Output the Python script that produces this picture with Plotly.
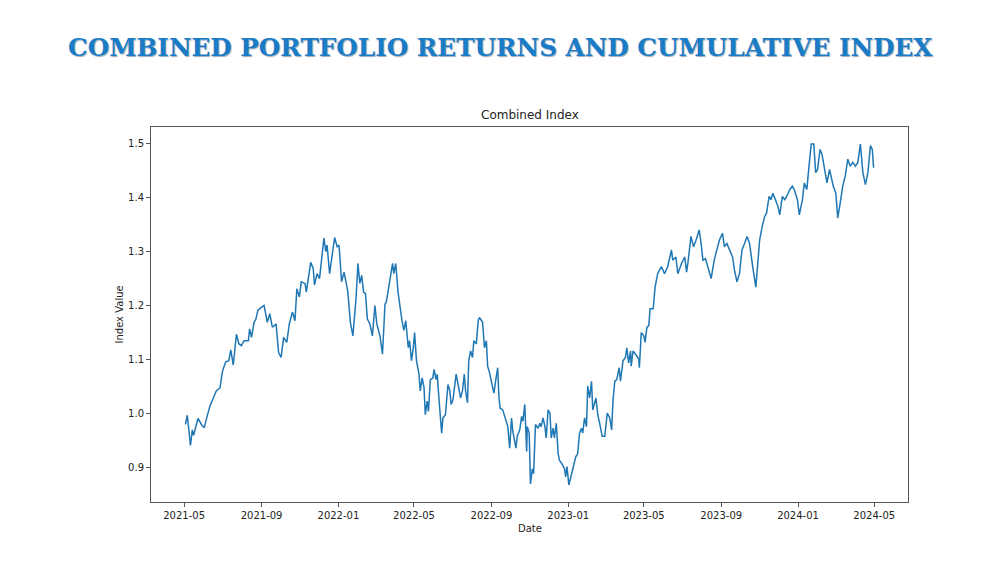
import pandas as pd
import plotly.graph_objects as go

# ---------------- data ----------------
start_date = "2021-05-01"
day_offsets = [
    2, 5, 10, 13, 15, 22, 28, 32, 36, 41, 46, 51, 57, 61, 66, 71, 74, 78, 83, 87,
    91, 95, 102, 104, 107, 111, 114, 117, 123, 127, 132, 136, 140, 146, 150, 154, 158,
    163, 167, 172, 176, 179, 183, 186, 192, 194, 201, 205, 207, 211, 215, 220, 222, 225,
    227, 231, 236, 239, 243, 246, 250, 254, 258, 260, 264, 268, 273, 276, 279, 282, 285,
    288, 291, 295, 299, 303, 306, 311, 315,
    319, 321, 324, 327, 331, 333, 336, 340, 344, 346, 349, 352, 356, 358, 361, 364, 366,
    369, 373, 375, 378, 381, 383, 386, 388, 391, 395, 397, 400, 402, 405, 409, 411, 415,
    419, 422, 424, 427, 432, 437, 439, 442, 445, 447, 450, 452, 455, 458, 460, 464, 467,
    469, 474,
    477, 480, 482, 485, 490, 492, 495, 498, 500, 502, 506, 511, 514, 517, 520, 522, 527,
    529, 533, 536, 538, 541, 544, 545, 548, 550, 553, 555, 558, 562, 565, 567, 570, 573,
    575, 578, 581, 583, 586, 588, 591, 594, 596, 601, 604, 606, 608, 611, 615, 619, 622,
    625, 628,
    631, 633, 636, 639, 641, 644, 647, 649, 654, 657, 661, 664, 668, 672, 676, 679, 681,
    684, 687, 691, 693, 697, 701, 703, 706, 709, 710, 713, 717, 722, 723, 726, 730, 732,
    735, 738, 740, 745, 746,
    748, 752, 758, 763, 768, 774, 776, 781, 784, 790, 795, 798, 800, 805, 809, 813, 818,
    821, 824, 828, 832, 837, 842, 850, 855, 858, 862, 866, 871, 874, 878, 882, 886, 890,
    894, 898, 901, 903, 908, 911, 914, 918, 922, 925, 929, 932, 935, 939, 943, 946, 950,
    954, 957, 962, 966, 969, 974, 977, 982, 985, 989, 993, 996, 1000, 1003, 1006, 1010,
    1013, 1017, 1021, 1025, 1028, 1031, 1035, 1038, 1042, 1046, 1050, 1054, 1058, 1062,
    1066, 1070, 1074, 1078, 1082, 1086, 1090, 1093, 1095,
]
index_values = [
    0.980, 0.997, 0.941, 0.970, 0.960, 0.991, 0.979, 0.974, 0.993, 1.014, 1.028, 1.042,
    1.048, 1.079, 1.096, 1.098, 1.118, 1.090, 1.147, 1.129, 1.126, 1.135, 1.135, 1.157,
    1.141, 1.169, 1.175, 1.191, 1.197, 1.200, 1.169, 1.185, 1.160, 1.166, 1.113, 1.104,
    1.141,
    1.132, 1.166, 1.188, 1.172, 1.231, 1.216, 1.244, 1.241, 1.225, 1.280, 1.269, 1.238,
    1.259, 1.250, 1.303, 1.325, 1.300, 1.312, 1.259, 1.297, 1.326, 1.309, 1.312, 1.244,
    1.262, 1.238, 1.225, 1.169, 1.144, 1.213, 1.278, 1.241, 1.256, 1.225, 1.222, 1.175,
    1.166, 1.144, 1.200, 1.166, 1.144, 1.110,
    1.203, 1.206, 1.228, 1.247, 1.278, 1.259, 1.278, 1.222, 1.185, 1.172, 1.154, 1.172,
    1.122, 1.135, 1.098, 1.122, 1.150, 1.098, 1.073, 1.042, 1.066, 1.048, 0.998, 1.023,
    1.004, 1.063, 1.066, 1.082, 1.063, 1.073, 1.023, 0.964, 0.992, 0.998, 1.054, 1.042,
    1.017, 1.026, 1.073, 1.042, 1.029, 1.042, 1.073, 1.042, 1.020, 1.098, 1.116, 1.104,
    1.135, 1.129, 1.172, 1.178, 1.169,
    1.122, 1.135, 1.088, 1.076, 1.048, 1.038, 1.063, 1.085, 1.029, 1.010, 1.007, 0.986,
    0.976, 0.936, 0.992, 0.967, 0.936, 0.958, 0.970, 0.995, 0.986, 1.017, 0.930, 0.976,
    0.964, 0.870, 0.898, 0.889, 0.980, 0.973, 0.982, 0.976, 0.992, 0.976, 0.955, 1.007,
    1.001, 0.955, 0.973, 0.955, 0.982, 0.926, 0.914, 0.905, 0.898, 0.883, 0.902, 0.868,
    0.886, 0.905, 0.920, 0.926, 0.964,
    0.973, 0.964, 0.992, 0.976, 1.051, 1.029, 1.060, 1.007, 1.029, 0.998, 0.976, 0.958,
    0.958, 1.001, 0.992, 0.970, 1.023, 1.060, 1.063, 1.085, 1.060, 1.098, 1.104, 1.122,
    1.094, 1.116, 1.088, 1.116, 1.110, 1.101, 1.085, 1.150, 1.144, 1.132, 1.160, 1.163,
    1.194, 1.194, 1.209,
    1.234, 1.259, 1.272, 1.259, 1.272, 1.303, 1.284, 1.290, 1.259, 1.278, 1.290, 1.262,
    1.278, 1.328, 1.309, 1.321, 1.340, 1.315, 1.284, 1.287, 1.272, 1.250, 1.285, 1.321,
    1.334, 1.309, 1.315, 1.303, 1.290, 1.266, 1.244, 1.259, 1.303, 1.315, 1.328, 1.315,
    1.284, 1.272, 1.234, 1.278, 1.321, 1.346, 1.365, 1.371, 1.402, 1.396, 1.408, 1.396,
    1.384, 1.368, 1.402, 1.396, 1.402, 1.415, 1.421, 1.415, 1.396, 1.368, 1.396, 1.427,
    1.415, 1.465, 1.499, 1.499, 1.446, 1.452, 1.489, 1.480, 1.452, 1.427, 1.452, 1.433,
    1.421, 1.408, 1.362, 1.390, 1.421, 1.440, 1.471, 1.458, 1.465, 1.458, 1.465, 1.499,
    1.446, 1.424, 1.446, 1.496, 1.489, 1.455,
]
y_ticks = [0.9, 1.0, 1.1, 1.2, 1.3, 1.4, 1.5]
x_tick_labels = ["2021-05", "2021-09", "2022-01", "2022-05", "2022-09",
                 "2023-01", "2023-05", "2023-09", "2024-01", "2024-05"]

page_title = "COMBINED PORTFOLIO RETURNS AND CUMULATIVE INDEX"
chart_title = "Combined Index"
x_title = "Date"
y_title = "Index Value"

# ---------------- build ----------------
dates = pd.Timestamp(start_date) + pd.to_timedelta(day_offsets, unit="D")

# matplotlib-like 5% auto margins
span_x = dates.max() - dates.min()
x_range = [dates.min() - 0.05 * span_x, dates.max() + 0.05 * span_x]
ymin, ymax = min(index_values), max(index_values)
span_y = ymax - ymin
y_range = [ymin - 0.05 * span_y, ymax + 0.05 * span_y]

fig = go.Figure()
fig.add_trace(go.Scatter(
    x=dates, y=index_values, mode="lines",
    line=dict(color="#1f77b4", width=1.5),
    hoverinfo="x+y", showlegend=False,
))

axis_color = "#555555"
tick_font = dict(family="DejaVu Sans", size=10, color="#222222")

fig.update_layout(
    width=1000, height=563,
    margin=dict(l=151, r=92, t=127, b=61),
    paper_bgcolor="white", plot_bgcolor="white",
    font=dict(family="DejaVu Sans", color="#222222"),
    xaxis=dict(
        range=x_range, showgrid=False, zeroline=False,
        showline=True, linecolor=axis_color, linewidth=1, mirror=True,
        ticks="outside", ticklen=4, tickcolor=axis_color, tickwidth=1,
        tickvals=[pd.Timestamp(t + "-01") for t in x_tick_labels],
        ticktext=x_tick_labels, tickfont=tick_font,
    ),
    yaxis=dict(
        range=y_range, showgrid=False, zeroline=False,
        showline=True, linecolor=axis_color, linewidth=1, mirror=True,
        ticks="outside", ticklen=4, tickcolor=axis_color, tickwidth=1,
        tickvals=y_ticks, ticktext=[f"{v:.1f}" for v in y_ticks], tickfont=tick_font,
    ),
)

# page title centred on the page (page centre x=500 -> paper coordinate)
fig.add_annotation(
    text=page_title, xref="paper", yref="paper", x=(500 - 151) / 757, y=1.211,
    xanchor="center", yanchor="middle", showarrow=False,
    font=dict(family="DejaVu Serif", size=24.7, color="#1a7cc6",
              weight="bold", shadow="1px 1px 1px #9ab"),
)
fig.add_annotation(
    text=chart_title, xref="paper", yref="paper", x=0.5, y=1,
    xanchor="center", yanchor="bottom", yshift=3, showarrow=False,
    font=dict(family="DejaVu Sans", size=12, color="#222222"),
)
fig.add_annotation(
    text=x_title, xref="paper", yref="paper", x=0.5, y=0,
    xanchor="center", yanchor="middle", yshift=-26, showarrow=False,
    font=dict(family="DejaVu Sans", size=10, color="#222222"),
)
fig.add_annotation(
    text=y_title, xref="paper", yref="paper", x=0, y=0.5, textangle=-90,
    xanchor="center", yanchor="middle", xshift=-32, showarrow=False,
    font=dict(family="DejaVu Sans", size=10, color="#222222"),
)

fig.write_html("out.html")
